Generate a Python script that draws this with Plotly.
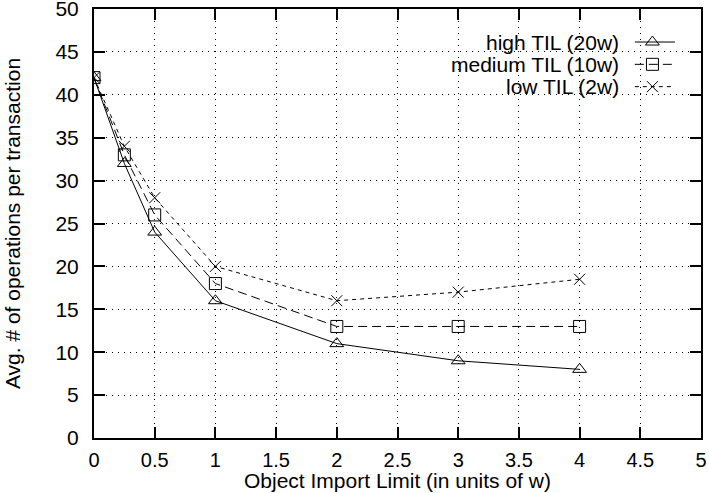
import plotly.graph_objects as go

# ---- data ----
x_vals = [0, 0.25, 0.5, 1, 2, 3, 4]
high_til = [42, 32, 24, 16, 11, 9, 8]
medium_til = [42, 33, 26, 18, 13, 13, 13]
low_til = [42, 34, 28, 20, 16, 17, 18.5]
series_names = ["high TIL (20w)", "medium TIL (10w)", "low TIL (2w)"]
x_ticks = [0, 0.5, 1, 1.5, 2, 2.5, 3, 3.5, 4, 4.5, 5]
x_tick_labels = ["0", "0.5", "1", "1.5", "2", "2.5", "3", "3.5", "4", "4.5", "5"]
y_ticks = [0, 5, 10, 15, 20, 25, 30, 35, 40, 45, 50]
y_tick_labels = [str(v) for v in y_ticks]
x_title = "Object Import Limit (in units of w)"
y_title = "Avg. # of operations per transaction"

FONT = "Liberation Sans, Arial, Helvetica, sans-serif"
FS = 21
styles = [
    dict(symbol="triangle-up-open", size=12, dash="solid"),
    dict(symbol="square-open", size=12, dash="9px,5px"),
    dict(symbol="x-thin-open", size=11, dash="4px,4px"),
]
series = [high_til, medium_til, low_til]

fig = go.Figure()
for name, ys, st in zip(series_names, series, styles):
    fig.add_trace(go.Scatter(
        x=x_vals, y=ys, mode="lines+markers", name=name,
        line=dict(color="black", width=1, dash=st["dash"]),
        marker=dict(symbol=st["symbol"], size=st["size"], color="black",
                    line=dict(color="black", width=1)),
        showlegend=False,
    ))

# ---- custom legend (text left of sample, gnuplot style) ----
leg_rows_y = [0.923, 0.871, 0.819]
for name, st, ly in zip(series_names, styles, leg_rows_y):
    fig.add_trace(go.Scatter(
        x=[0.891, 0.957], y=[ly, ly], mode="lines", xaxis="x2", yaxis="y2",
        line=dict(color="black", width=1, dash=st["dash"]), showlegend=False,
        hoverinfo="skip",
    ))
    fig.add_trace(go.Scatter(
        x=[0.92], y=[ly], mode="markers", xaxis="x2", yaxis="y2",
        marker=dict(symbol=st["symbol"], size=st["size"], color="black",
                    line=dict(color="black", width=1)),
        showlegend=False, hoverinfo="skip",
    ))
    fig.add_annotation(
        x=0.869, y=ly, xref="paper", yref="paper", text=name,
        showarrow=False, xanchor="right", yanchor="middle",
        font=dict(family=FONT, size=FS, color="black"),
    )

# x-axis title as text below tick labels
fig.add_annotation(
    x=0.5, y=0, xref="paper", yref="paper", text=x_title,
    showarrow=False, xanchor="center", yanchor="middle", yshift=-42,
    font=dict(family=FONT, size=21, color="black"),
)

fig.update_layout(
    width=709, height=493,
    margin=dict(l=94, r=8, t=9, b=55),
    paper_bgcolor="white", plot_bgcolor="white",
    font=dict(family=FONT, size=FS, color="black"),
    xaxis=dict(
        range=[0, 5], tickvals=x_ticks, ticktext=x_tick_labels,
        ticks="inside", ticklen=11, tickwidth=2, tickcolor="black",
        showline=True, linewidth=2, linecolor="black", mirror="ticks",
        showgrid=True, gridcolor="black", gridwidth=1, griddash="1px,5px",
        zeroline=False, ticklabelstandoff=3, automargin=False,
        ticklabeloverflow="allow", tickfont=dict(family=FONT, size=20),
    ),
    yaxis=dict(
        range=[0, 50], tickvals=y_ticks, ticktext=y_tick_labels,
        ticks="inside", ticklen=11, tickwidth=2, tickcolor="black",
        showline=True, linewidth=2, linecolor="black", mirror="ticks",
        showgrid=True, gridcolor="black", gridwidth=1, griddash="1px,5px",
        zeroline=False, ticklabelstandoff=9, automargin=False,
        ticklabeloverflow="allow",
        title=dict(text=y_title, standoff=29,
                   font=dict(family=FONT, size=FS)),
    ),
    xaxis2=dict(range=[0, 1], overlaying="x", visible=False, fixedrange=True),
    yaxis2=dict(range=[0, 1], overlaying="y", visible=False, fixedrange=True),
)

fig.write_html(
    "out.html",
    config={"displayModeBar": False},
    post_script="document.body.style.margin='0';document.body.style.overflow='hidden';",
)
